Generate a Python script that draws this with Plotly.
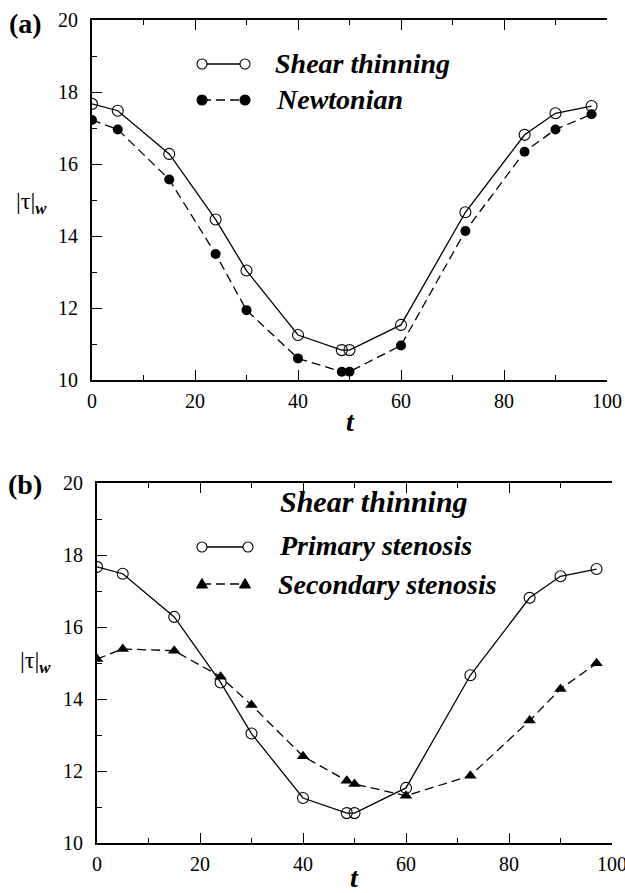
import plotly.graph_objects as go

# Wall shear stress magnitude over one cycle
t = [0, 5, 15, 24, 30, 40, 48.5, 50, 60, 72.5, 84, 90, 97]
shear_thinning = [17.67, 17.48, 16.28, 14.46, 13.04, 11.25, 10.83, 10.83, 11.53, 14.66, 16.81, 17.41, 17.61]
newtonian = [17.22, 16.96, 15.57, 13.50, 11.94, 10.60, 10.23, 10.23, 10.96, 14.14, 16.34, 16.96, 17.38]
secondary_stenosis = [15.11, 15.39, 15.34, 14.62, 13.83, 12.41, 11.73, 11.64, 11.31, 11.87, 13.40, 14.28, 14.99]

x_ticks = [0, 20, 40, 60, 80, 100]
y_ticks = [10, 12, 14, 16, 18, 20]

W, H = 625, 893
FONT = "Liberation Serif"


def px(x):
    return x / W


def py(y):
    return 1 - y / H


fig = go.Figure()

solid = dict(color="black", width=1.3)
dashed = dict(color="black", width=1.3, dash="9px,5px")

# panel (a)
fig.add_trace(go.Scatter(x=t, y=shear_thinning, mode="lines+markers", line=solid,
                         marker=dict(symbol="circle-open", size=11, color="black", line=dict(width=1.1)),
                         xaxis="x", yaxis="y", showlegend=False))
fig.add_trace(go.Scatter(x=t, y=newtonian, mode="lines+markers", line=dashed,
                         marker=dict(symbol="circle", size=10, color="black"),
                         xaxis="x", yaxis="y", showlegend=False))
# panel (b)
fig.add_trace(go.Scatter(x=t, y=shear_thinning, mode="lines+markers", line=solid,
                         marker=dict(symbol="circle-open", size=11, color="black", line=dict(width=1.1)),
                         xaxis="x2", yaxis="y2", showlegend=False))
fig.add_trace(go.Scatter(x=t, y=secondary_stenosis, mode="lines+markers", line=dashed,
                         marker=dict(symbol="triangle-up", size=11, color="black"),
                         xaxis="x2", yaxis="y2", showlegend=False))

tickfont = dict(family=FONT, size=20, color="black")


def xaxis_cfg(domain, anchor):
    return dict(domain=domain, anchor=anchor, range=[0, 100], tickvals=x_ticks,
                ticks="inside", ticklen=10, tickwidth=1.3, tickcolor="black",
                minor=dict(tickvals=list(range(10, 100, 20)), ticks="inside", ticklen=5,
                           tickwidth=1.3, tickcolor="black", showgrid=False),
                showline=True, linewidth=2, linecolor="black", mirror="ticks",
                showgrid=False, zeroline=False, tickfont=tickfont, ticklabelstandoff=2,
                ticklabeloverflow="allow", automargin=False)


def yaxis_cfg(domain, anchor):
    return dict(domain=domain, anchor=anchor, range=[10, 20], tickvals=y_ticks,
                ticks="inside", ticklen=10, tickwidth=1.3, tickcolor="black",
                minor=dict(tickvals=list(range(11, 20, 2)), ticks="inside", ticklen=5,
                           tickwidth=1.3, tickcolor="black", showgrid=False),
                showline=True, linewidth=2, linecolor="black", mirror=False,
                showgrid=False, zeroline=False, tickfont=tickfont, ticklabelstandoff=8,
                ticklabeloverflow="allow", automargin=False)


def yright_cfg(over, anchor):
    return dict(overlaying=over, anchor=anchor, side="right", range=[10, 20],
                tickvals=list(range(10, 21)),
                ticks="inside", ticklen=5, tickwidth=1.3, tickcolor="black",
                showticklabels=False, showline=True, linewidth=2, linecolor="black",
                showgrid=False, zeroline=False, automargin=False)


dom_ax = [px(92), px(607)]
dom_ay = [py(380), py(20)]
dom_bx = [px(97), px(612)]
dom_by = [py(843), py(483)]

fig.update_layout(
    width=W, height=H, margin=dict(l=0, r=0, t=0, b=0),
    paper_bgcolor="white", plot_bgcolor="white",
    font=dict(family=FONT, color="black"),
    xaxis=xaxis_cfg(dom_ax, "y"),
    yaxis=yaxis_cfg(dom_ay, "x"),
    xaxis2=xaxis_cfg(dom_bx, "y2"),
    yaxis2=yaxis_cfg(dom_by, "x2"),
    yaxis3=yright_cfg("y", "x"),
    yaxis4=yright_cfg("y2", "x2"),
)

annotations = []


def text(s, x, y, size, xanchor="left"):
    annotations.append(dict(text=s, x=px(x), y=py(y), xref="paper", yref="paper",
                            xanchor=xanchor, yanchor="middle", showarrow=False,
                            font=dict(family=FONT, size=size, color="black")))


# panel letters
text("<b>(a)</b>", 25, 23, 28, "center")
text("<b>(b)</b>", 25, 484, 28, "center")
# axis titles
ylab = "|τ|<sub><b><i>w</i></b></sub>"
text(ylab, 31, 203, 24, "center")
text(ylab, 35, 662, 24, "center")
text("<b><i>t</i></b>", 350, 421, 28, "center")
text("<b><i>t</i></b>", 354, 877, 28, "center")
# key labels
text("<b><i>Shear thinning</i></b>", 273, 64, 28)
text("<b><i>Newtonian</i></b>", 274, 100, 28)
text("<b><i>Shear thinning</i></b>", 278, 502, 30)
text("<b><i>Primary stenosis</i></b>", 277, 545, 28)
text("<b><i>Secondary stenosis</i></b>", 276, 584, 28)

shapes = []


def key_line(x0, x1, y, dash=None):
    ln = dict(color="black", width=1.3)
    if dash:
        ln["dash"] = dash
    shapes.append(dict(type="line", xref="paper", yref="paper",
                       x0=px(x0), x1=px(x1), y0=py(y), y1=py(y), line=ln))


def key_circle(x, y, filled):
    shapes.append(dict(type="circle", xref="paper", yref="paper",
                       xsizemode="pixel", ysizemode="pixel",
                       xanchor=px(x), yanchor=py(y), x0=-5, x1=5, y0=-5, y1=5,
                       fillcolor="black" if filled else "white",
                       line=dict(color="black", width=1.1)))


def key_triangle(x, y):
    shapes.append(dict(type="path", xref="paper", yref="paper",
                       xsizemode="pixel", ysizemode="pixel",
                       xanchor=px(x), yanchor=py(y),
                       path="M-5.5,-4 L5.5,-4 L0,5.5 Z",
                       fillcolor="black", line=dict(color="black", width=1)))


key_line(202, 245, 64)
key_circle(202, 64, False)
key_circle(245, 64, False)
key_line(202, 245, 100, "9px,5px")
key_circle(202, 100, True)
key_circle(245, 100, True)

key_line(202, 248, 547)
key_circle(202, 547, False)
key_circle(248, 547, False)
key_line(202, 245, 584, "9px,5px")
key_triangle(202, 584)
key_triangle(245, 584)

fig.update_layout(annotations=annotations, shapes=shapes)

fig.write_html("out.html")
